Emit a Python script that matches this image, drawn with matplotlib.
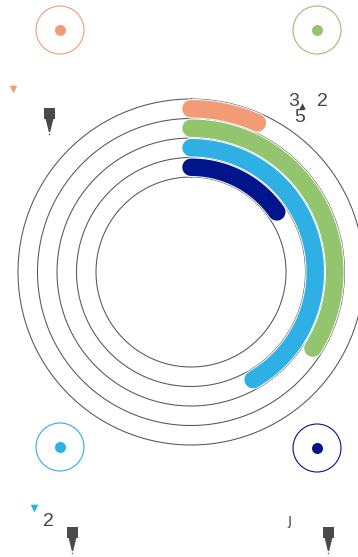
import numpy as np
import matplotlib
matplotlib.use('Agg')
import matplotlib.pyplot as plt

# ring data: degrees swept clockwise from 12 o'clock, outer ring first
names = ['A', 'B', 'C', 'D']
values = [24, 122, 150, 55]
colors = ['#F39B77', '#92C56E', '#2EB0E5', '#00148C']

# thin guide circles (radius in px)
guide_r = [173, 153.5, 134, 114.5, 95]
band_r = [163.25, 143.75, 124.25, 104.75]

# corner badges (x, y in px, y down)
badge_xy = [(60, 30), (317, 30), (60, 447), (317, 448)]
tri_xy = [(13, 89), (34, 508)]
tri_col = [colors[0], colors[2]]
labels = ['3', '2', '5', '2']
label_xy = [(294, 102), (322, 102), (300, 118), (48, 521)]
pen_xy = [(49, 114), (72, 533), (328, 533)]

W, H, DPI = 358, 557, 100
fig = plt.figure(figsize=(W / DPI, H / DPI), dpi=DPI)

# polar axes centred at (191, 272) px
cx, cy, R = 191, 272, 180
ax = fig.add_axes([(cx - R) / W, (H - cy - R) / H, 2 * R / W, 2 * R / H],
                  projection='polar')
ax.set_theta_zero_location('N')
ax.set_theta_direction(-1)
ax.set_ylim(0, R)
ax.axis('off')

t = np.linspace(0, 2 * np.pi, 400)
for r in guide_r:
    ax.plot(t, np.full_like(t, r), color='#555555', lw=0.75, clip_on=False)

px = 72 / DPI
for v, r, c in zip(values, band_r, colors):
    th = np.linspace(0, np.deg2rad(v), 200)
    ax.plot(th, np.full_like(th, r), color='white', lw=19.5 * px,
            solid_capstyle='round', clip_on=False)
    ax.plot(th, np.full_like(th, r), color=c, lw=17.5 * px,
            solid_capstyle='round', clip_on=False)

# overlay in pixel coords
ov = fig.add_axes([0, 0, 1, 1])
ov.set_xlim(0, W)
ov.set_ylim(H, 0)
ov.axis('off')

for (x, y), c in zip(badge_xy, colors):
    ov.scatter([x], [y], s=(48 * px) ** 2, facecolors='none',
               edgecolors=c, linewidths=0.8)
    ov.scatter([x], [y], s=(11 * px) ** 2, color=c, lw=0)

for (x, y), c in zip(tri_xy, tri_col):
    ov.scatter([x], [y], marker='v', s=30, color=c, lw=0)
ov.scatter([302], [106], marker='^', s=22, color='#444444', lw=0)

for s, (x, y) in zip(labels, label_xy):
    ov.text(x, y, s, fontsize=14, color='#444444', ha='center', va='center',
            family='Liberation Sans')
ov.text(289, 520, '\u0237', fontsize=11, color='#555555', ha='center',
        va='center')

pen = [(-0.3, 0.5), (0.3, 0.5), (0.05, -0.5), (-0.05, -0.5)]
for x, y in pen_xy:
    ov.scatter([x], [y - 1], marker='s', s=(11 * px) ** 2, color='#4a4a4a', lw=0)
    ov.scatter([x], [y + 11], marker=pen, s=(13 * px) ** 2,
               color='#4a4a4a', lw=0)
    ov.scatter([x], [y + 20], marker='o', s=1.5, color='#777777', lw=0)

fig.savefig('out.png', dpi=DPI)
